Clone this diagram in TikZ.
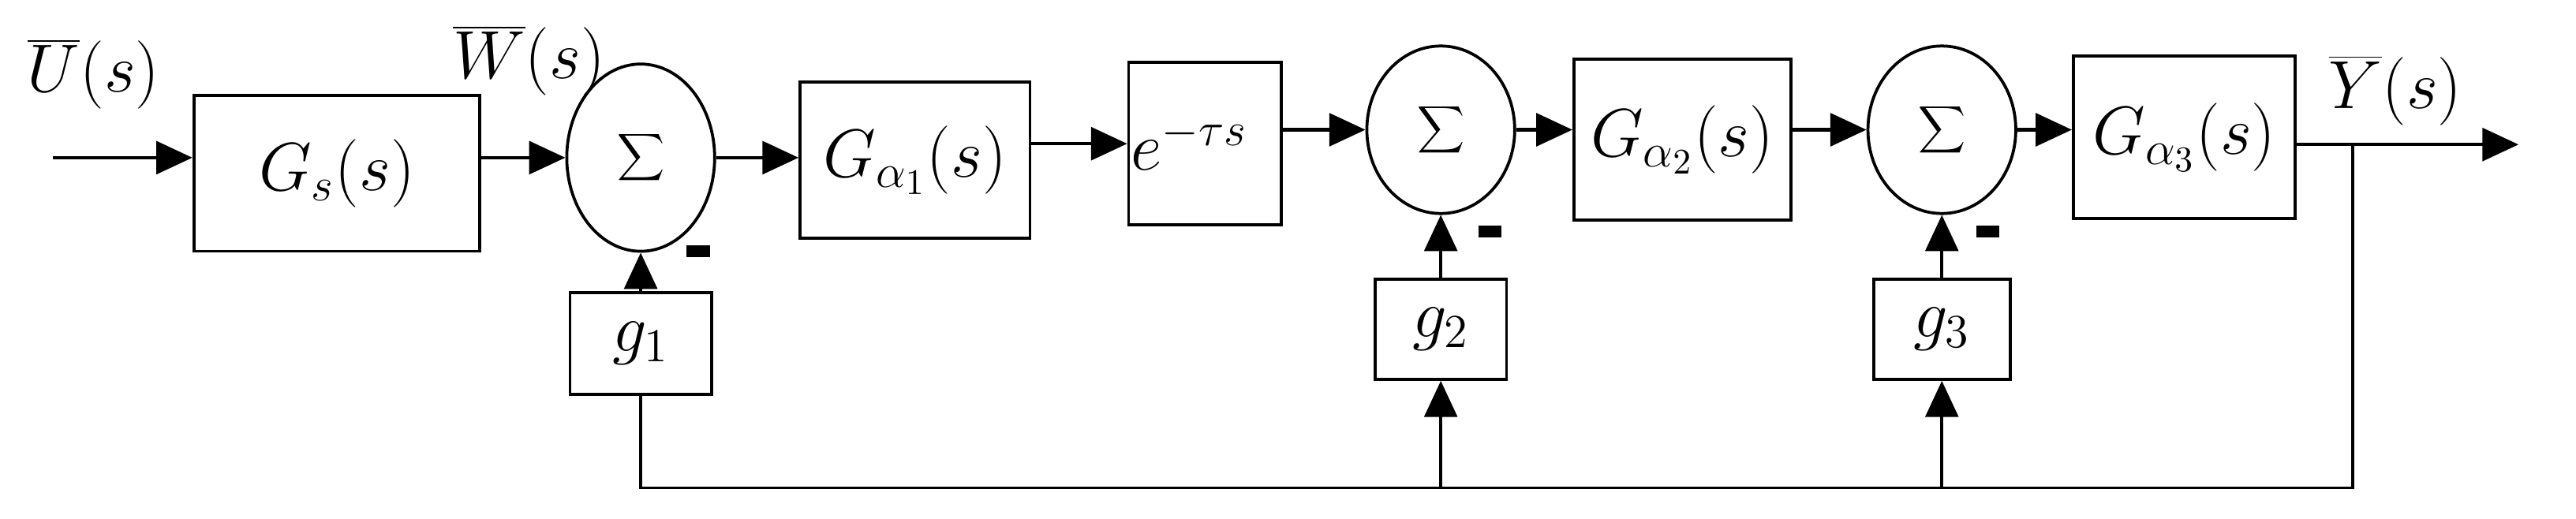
\documentclass[tikz,border=0pt]{standalone}
\usetikzlibrary{shapes.geometric,arrows.meta}
\begin{document}
\begin{tikzpicture}[x=0.5pt,y=-0.5pt,
  every node/.style={font=\fontsize{22}{25}\selectfont},
  blk/.style={draw,line width=0.9pt,inner sep=0pt},
  sumn/.style={draw,ellipse,line width=0.9pt,inner sep=0pt,minimum width=45pt,minimum height=57pt},
  arr/.style={line width=1pt,-{Triangle[length=11pt,width=10pt]}},
  ln/.style={line width=0.8pt},
  minus/.style={fill=black,inner sep=0pt,minimum width=7pt,minimum height=3.5pt}]
\useasboundingbox (0,0) rectangle (1568,316);
\node[blk,minimum width=87pt,minimum height=47.5pt] (gs) at (205,105.5) {$G_s(s)$};
\node[sumn] (s1) at (390,96) {$\displaystyle\sum$};
\node[blk,minimum width=70pt,minimum height=47.5pt] (ga1) at (557,97.5) {$G_{\alpha_1}(s)$};
\node[blk,minimum width=46.5pt,minimum height=49.5pt,text width=45pt,align=left] (e) at (733.5,87.5) {$e^{-\tau s}$};
\node[sumn,minimum height=51pt] (s2) at (877,79) {$\displaystyle\sum$};
\node[blk,minimum width=66pt,minimum height=49pt] (ga2) at (1024,85) {$G_{\alpha_2}(s)$};
\node[sumn,minimum height=51pt] (s3) at (1182,79) {$\displaystyle\sum$};
\node[blk,minimum width=67.5pt,minimum height=49.5pt] (ga3) at (1329.5,83.5) {$G_{\alpha_3}(s)$};
\node[blk,minimum width=43pt,minimum height=31pt] (g1) at (390,209) {$g_1$};
\node[blk,minimum width=40pt,minimum height=30.5pt] (g2) at (877,200.5) {$g_2$};
\node[blk,minimum width=41.5pt,minimum height=30.5pt] (g3) at (1182,200.5) {$g_3$};
\node[minus] (m1) at (425,153) {};
\node[minus] (m2) at (907,141) {};
\node[minus] (m3) at (1210,141) {};
\node (lu) at (57,45) {$\overline{U}(s)$};
\node (lw) at (322,37) {$\overline{W}(s)$};
\node (ly) at (1458,55) {$\overline{Y}(s)$};
\coordinate (in) at (32,96);
\coordinate (out) at (1533,88);
\coordinate (br) at (1432,88);
\coordinate (c1) at (390,297);
\coordinate (c2) at (877,297);
\coordinate (c3) at (1182,297);
\coordinate (cr) at (1432,297);
\draw[arr] (in) -- (in -| gs.west);
\draw[arr] (gs.east |- in) -- (s1.west);
\draw[arr] (s1.east) -- (s1.east -| ga1.west);
\draw[arr] (ga1.east |- e.center) -- (e.west);
\draw[arr] (e.east |- s2.center) -- (s2.west);
\draw[arr] (s2.east) -- (s2.east -| ga2.west);
\draw[arr] (ga2.east |- s3.center) -- (s3.west);
\draw[arr] (s3.east) -- (s3.east -| ga3.west);
\draw[arr] (ga3.east |- out) -- (out);
\draw[arr] (g1.north) -- (s1.south);
\draw[arr] (g2.north) -- (s2.south);
\draw[arr] (g3.north) -- (s3.south);
\draw[ln] (g1.south) -- (c1) -- (cr) -- (br);
\draw[arr] (c2) -- (g2.south);
\draw[arr] (c3) -- (g3.south);
\end{tikzpicture}
\end{document}
